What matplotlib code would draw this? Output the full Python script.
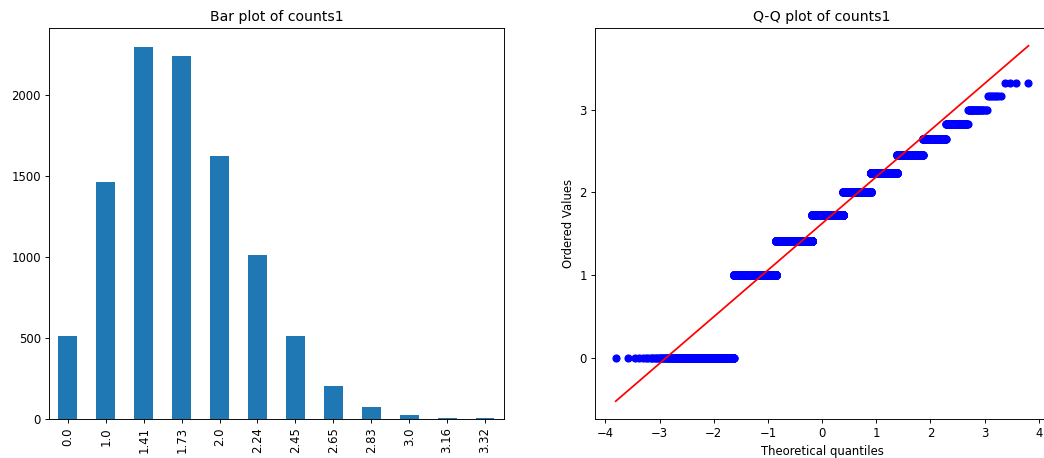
import numpy as np
import matplotlib
matplotlib.use('Agg')
import matplotlib.pyplot as plt
from statistics import NormalDist

# square-root values (categories) and how often each occurs
labels = ['0.0', '1.0', '1.41', '1.73', '2.0', '2.24', '2.45', '2.65', '2.83', '3.0', '3.16', '3.32']
values = [0.0, 1.0, 1.41, 1.73, 2.0, 2.24, 2.45, 2.65, 2.83, 3.0, 3.16, 3.32]
counts = [510, 1465, 2298, 2240, 1625, 1015, 513, 203, 76, 24, 7, 4]

DPI = 84
fig = plt.figure(figsize=(1044 / DPI, 458 / DPI), dpi=DPI)

# bar plot
ax1 = fig.add_axes([0.0469, 0.0852, 0.4358, 0.8537])
x = np.arange(len(labels))
ax1.bar(x, counts, width=0.5, color='#1f77b4')
ax1.set_xticks(x)
ax1.set_xticklabels(labels, rotation=90)
ax1.set_xlim(-0.5, len(labels) - 0.5)
ax1.set_title('Bar plot of counts1')

# Q-Q plot (same approach as scipy probplot)
ordered = np.sort(np.repeat(values, counts))
n = len(ordered)
m = np.empty(n)
m[-1] = 0.5 ** (1.0 / n)
m[0] = 1 - m[-1]
i = np.arange(2, n)
m[1:-1] = (i - 0.3175) / (n + 0.365)
nd = NormalDist()
osm = np.array([nd.inv_cdf(p) for p in m])
slope, intercept = np.polyfit(osm, ordered, 1)

ax2 = fig.add_axes([0.570, 0.0852, 0.4349, 0.8537])
ax2.plot(osm, ordered, 'bo')
ax2.plot(osm, slope * osm + intercept, 'r-')
ax2.set_title('Q-Q plot of counts1')
ax2.set_xlabel('Theoretical quantiles')
ax2.set_ylabel('Ordered Values')

fig.savefig('out.png', dpi=DPI)
